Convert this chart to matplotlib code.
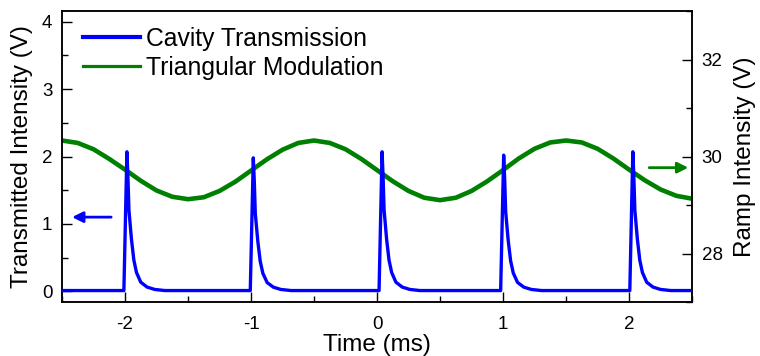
import matplotlib
matplotlib.use("Agg")
import matplotlib.pyplot as plt
from matplotlib.lines import Line2D
import numpy as np

plt.rcParams['font.family'] = ['Liberation Sans', 'DejaVu Sans']

# ---- data ----
# Cavity transmission: pulse positions (ms) and peak heights (V)
peak_times = [-1.985, -0.982, 0.040, 1.005, 2.030]
peak_heights = [2.07, 1.98, 2.07, 2.02, 2.07]
# pulse shape read from one pulse: time offset from peak (ms) and fraction of peak height
pulse_offsets = [-0.024, 0.0, 0.008, 0.016, 0.036, 0.055, 0.076, 0.110, 0.160, 0.220, 0.300]
pulse_shape = [0.0, 1.0, 0.82, 0.58, 0.37, 0.22, 0.13, 0.06, 0.025, 0.008, 0.0]
baseline = 0.01

# Triangular modulation (right axis, V), sampled every 0.125 ms from -2.5 to 2.5
ramp_t = [-2.5 + 0.125 * i for i in range(41)]
ramp_v = [30.33, 30.28, 30.15, 29.95, 29.73, 29.50, 29.30, 29.17, 29.12,
          29.16, 29.29, 29.48, 29.71, 29.94, 30.14, 30.28, 30.33,
          30.28, 30.15, 29.95, 29.72, 29.49, 29.29, 29.15, 29.10,
          29.15, 29.29, 29.49, 29.72, 29.96, 30.16, 30.29, 30.33,
          30.29, 30.16, 29.96, 29.73, 29.51, 29.32, 29.19, 29.13]

xticks = [-2, -1, 0, 1, 2]
left_ticks = [0, 1, 2, 3, 4]
right_ticks = [28, 30, 32]
labels = ['Cavity Transmission', 'Triangular Modulation']

# build the transmission trace
cav_t = [-2.5]
cav_v = [baseline]
for tp, h in zip(peak_times, peak_heights):
    for dt, s in zip(pulse_offsets, pulse_shape):
        cav_t.append(tp + dt)
        cav_v.append(baseline + (h - baseline) * s)
cav_t.append(2.5)
cav_v.append(baseline)

fig = plt.figure(figsize=(7.6, 3.56), dpi=100)
ax = fig.add_axes([0.0816, 0.1517, 0.829, 0.8173])
ax2 = ax.twinx()

ax.plot(cav_t, cav_v, color='#0000ff', lw=2.4, zorder=3)
ax2.plot(ramp_t, ramp_v, color='#008000', lw=3.3)
ax.set_zorder(ax2.get_zorder() + 1)
ax.patch.set_visible(False)

ax.set_xlim(-2.5, 2.5)
ax.set_ylim(-0.16, 4.16)
ax2.set_ylim(27, 33)

ax.set_xticks(xticks)
ax.set_xticklabels([str(v) for v in xticks])
ax.set_xticks(np.arange(-2.5, 2.51, 0.5), minor=True)
ax.set_yticks(left_ticks)
ax.set_yticks(np.arange(0, 4.01, 0.5), minor=True)
ax2.set_yticks(right_ticks)
ax2.set_yticks([27, 29, 31, 33], minor=True)

for a in (ax, ax2):
    a.tick_params(which='both', direction='in', labelsize=13.5, width=1, color='black')
    a.tick_params(which='major', length=7)
    a.tick_params(which='minor', length=4)
    for sp in a.spines.values():
        sp.set_linewidth(1.1)
ax.tick_params(axis='y', which='both', top=False, right=False, pad=7)
ax.tick_params(axis='x', which='both', top=False, pad=10)
ax2.tick_params(axis='y', which='both', pad=7)

ax.set_xlabel('Time (ms)', fontsize=17.5, labelpad=1)
ax.set_ylabel('Transmitted Intensity (V)', fontsize=17.5, labelpad=6)
ax2.set_ylabel('Ramp Intensity (V)', fontsize=17.5, labelpad=8)

ax.annotate('', xy=(-2.42, 1.1), xytext=(-2.11, 1.1),
            arrowprops=dict(arrowstyle='-|>', color='#0000ff', lw=2, mutation_scale=16, shrinkA=0, shrinkB=0))
ax2.annotate('', xy=(2.47, 29.77), xytext=(2.16, 29.77),
             arrowprops=dict(arrowstyle='-|>', color='#008000', lw=2, mutation_scale=16, shrinkA=0, shrinkB=0))

handles = [Line2D([], [], color='#0000ff', lw=3.0), Line2D([], [], color='#008000', lw=2.3)]
leg = ax.legend(handles, labels,
                loc='upper left', bbox_to_anchor=(0.029, 0.955), frameon=False,
                fontsize=17.8, handlelength=2.3, handletextpad=0.25,
                labelspacing=0.2, borderpad=0.1, borderaxespad=0)

fig.savefig('out.png', dpi=100)
